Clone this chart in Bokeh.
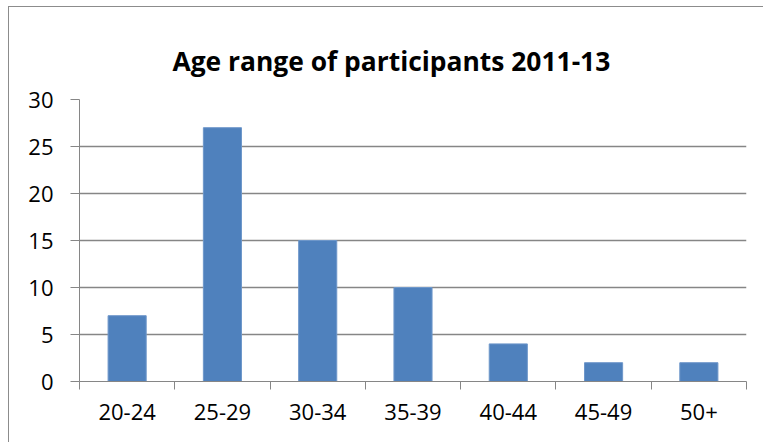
from bokeh.plotting import figure
from bokeh.models import FixedTicker, ColumnDataSource, Range1d
from bokeh.embed import file_html
from bokeh.resources import INLINE

categories = ["20-24", "25-29", "30-34", "35-39", "40-44", "45-49", "50+"]
counts = [7, 27, 15, 10, 4, 2, 2]
y_ticks = [0, 5, 10, 15, 20, 25, 30]
title_text = "Age range of participants 2011-13"

centers = [i + 0.5 for i in range(len(categories))]
source = ColumnDataSource(dict(x=centers, top=counts, cat=categories))

GRAY = "#868686"
FONT = "Open Sans"

p = figure(width=755, height=436, output_backend="svg", toolbar_location=None,
           x_range=Range1d(0, len(categories)), y_range=Range1d(0, 30),
           min_border_left=70, min_border_right=18, min_border_top=92, min_border_bottom=62,
           title=title_text)
p.styles = {"border-left": "1px solid #8c8c8c", "border-top": "1px solid #8c8c8c",
            "margin-left": "8px", "margin-top": "6px"}
p.outline_line_color = None
p.background_fill_color = "white"
p.border_fill_color = "white"

p.vbar(x="x", top="top", width=0.4, bottom=0, source=source,
       fill_color="#4F81BD", line_color="#6E97CA", line_width=1)

p.title.text_font = FONT
p.title.text_font_style = "bold"
p.title.text_font_size = "26.4px"
p.title.text_color = "black"
p.title.align = "left"
p.title.offset = 93
p.title.vertical_align = "middle"
p.title.standoff = 40

# x axis: labels at centers, tick marks at category boundaries
xa = p.xaxis[0]
xa.ticker = FixedTicker(ticks=centers, minor_ticks=list(range(len(categories) + 1)))
xa.major_label_overrides = {c: lab for c, lab in zip(centers, categories)}
xa.major_tick_line_color = None
xa.minor_tick_out = 8
xa.minor_tick_in = 0
xa.minor_tick_line_color = GRAY
xa.axis_line_color = GRAY
xa.major_label_text_font = FONT
xa.major_label_text_font_size = "22px"
xa.major_label_text_color = "black"
xa.major_label_standoff = 14

ya = p.yaxis[0]
ya.ticker = FixedTicker(ticks=y_ticks, minor_ticks=[])
ya.major_tick_out = 9
ya.major_tick_in = 0
ya.major_tick_line_color = GRAY
ya.minor_tick_line_color = None
ya.axis_line_color = GRAY
ya.major_label_text_font = FONT
ya.major_label_text_font_size = "22px"
ya.major_label_text_color = "black"
ya.major_label_standoff = 17

p.xgrid.grid_line_color = None
p.ygrid.ticker = FixedTicker(ticks=y_ticks[1:])
p.ygrid.grid_line_color = GRAY
p.ygrid.grid_line_width = 1.5

open("out.html", "w").write(file_html(p, INLINE))
